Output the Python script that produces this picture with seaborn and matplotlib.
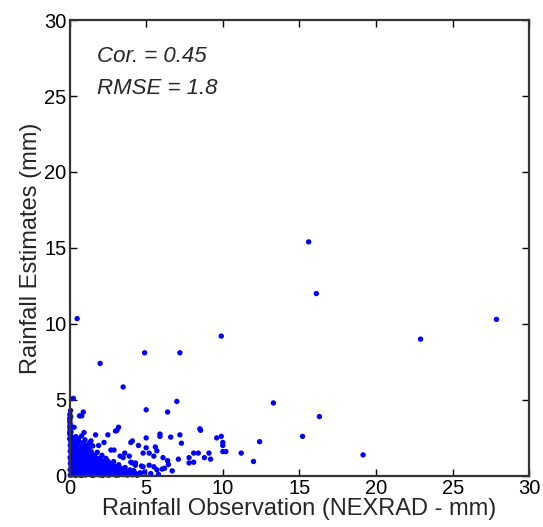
import matplotlib
matplotlib.use("Agg")
import matplotlib.pyplot as plt
import seaborn as sns
import numpy as np
import pandas as pd

# scattered points
obs_sparse = [15.6, 16.1, 27.85, 22.9, 9.9, 0.5, 2.0, 4.9, 7.2, 3.5, 0.25, 7.0, 5.0, 6.4,
              13.3, 16.3, 15.2, 19.15, 12.4, 12.0, 11.2, 10.0, 10.0, 10.0, 10.2, 9.6, 9.9,
              8.55, 8.5, 7.2, 7.3, 6.6, 5.9, 5.9, 5.0, 4.5, 4.0, 4.1, 5.0, 5.6, 5.7, 4.8,
              5.2, 5.5, 6.1, 6.4, 5.2, 4.7, 5.7, 6.2, 6.7, 7.1, 7.8, 7.8, 8.1, 8.4, 8.8,
              9.1, 9.2, 8.1, 6.05, 6.45, 5.5, 4.8, 4.1, 4.3, 3.6, 3.3, 3.5, 2.9, 3.2, 3.0,
              0.9, 0.65, 0.8, 0.07, 0.07, 3.1, 2.5, 1.7, 0.95, 0.3, 2.25, 1.4, 1.9, 2.7,
              3.9, 4.0, 4.3, 0.03, 0.03, 0.05, 0.03, 0.1, 5.3, 4.6, 3.8, 4.9, 5.8]
est_sparse = [15.4, 12.0, 10.3, 9.0, 9.2, 10.35, 7.4, 8.1, 8.1, 5.85, 5.1, 4.9, 4.35, 4.2,
              4.8, 3.9, 2.6, 1.38, 2.25, 0.95, 1.5, 2.2, 2.0, 1.6, 1.6, 2.5, 2.6,
              3.0, 3.1, 2.7, 2.15, 2.55, 2.6, 2.75, 2.5, 2.0, 2.2, 2.3, 1.85, 1.9, 1.65, 1.5,
              1.5, 1.3, 1.2, 1.0, 0.7, 0.65, 0.4, 0.5, 0.33, 1.1, 1.2, 0.85, 1.5, 1.5, 1.2,
              1.5, 1.1, 0.9, 0.45, 0.75, 0.6, 0.6, 0.85, 0.85, 1.5, 1.3, 1.2, 1.7, 3.2, 2.95,
              4.2, 3.95, 3.95, 4.3, 3.9, 3.0, 2.7, 2.7, 2.85, 3.2, 2.2, 2.3, 2.0, 1.7,
              1.3, 0.9, 0.7, 2.8, 3.1, 3.4, 3.7, 2.9, 0.15, 0.2, 0.1, 0.25, 0.1]

# dense cluster near the origin, row by row
obs_dense = [0.05, 0.22, 0.41, 0.63, 0.78, 1.02, 1.18, 1.43, 1.57, 1.84, 2.02, 2.17, 2.44, 2.58, 2.83, 3.04, 3.22, 3.52, 3.77, 4.12, 4.41,
             0.12, 0.28, 0.53, 0.69, 0.94, 1.08, 1.32, 1.48, 1.73, 1.88, 2.13, 2.31, 2.49, 2.72, 2.91, 3.13, 3.38, 3.71, 3.98, 4.27, 4.62,
             0.04, 0.24, 0.47, 0.61, 0.87, 1.03, 1.27, 1.44, 1.68, 1.83, 2.07, 2.26, 2.43, 2.67, 2.88, 3.17, 3.42, 3.58, 3.93, 4.18,
             0.11, 0.33, 0.49, 0.72, 0.91, 1.13, 1.29, 1.52, 1.71, 1.92, 2.09, 2.34, 2.56, 2.78, 3.02, 3.27, 3.63,
             0.06, 0.23, 0.44, 0.67, 0.83, 1.07, 1.24, 1.46, 1.63, 1.87, 2.04, 2.32, 2.61, 2.84, 3.21,
             0.09, 0.31, 0.52, 0.68, 0.92, 1.12, 1.33, 1.49, 1.72, 1.96, 2.19, 2.52, 2.88,
             0.04, 0.27, 0.43, 0.66, 0.86, 1.04, 1.26, 1.51, 1.77, 2.01, 2.38,
             0.12, 0.29, 0.51, 0.71, 0.93, 1.11, 1.36, 1.62, 2.12,
             0.05, 0.26, 0.46, 0.64, 0.89, 1.16, 1.42, 1.81,
             0.1, 0.31, 0.52, 0.76, 1.02, 1.28,
             0.05, 0.24, 0.49, 0.81, 1.09, 1.52,
             0.09, 0.36, 0.62, 0.88, 1.31,
             0.04, 0.29, 0.58, 1.01,
             0.11, 0.42, 0.79,
             # in-between rows
             0.14, 0.33, 0.52, 0.71, 0.9, 1.13, 1.31, 1.55, 1.74, 1.96, 2.23, 2.38, 2.66, 2.95, 3.31, 3.62, 3.88, 4.31, 4.55,
             0.15, 0.36, 0.57, 0.79, 0.98, 1.19, 1.38, 1.61, 1.79, 1.98, 2.21, 2.41, 2.75, 3.08, 3.47, 3.82, 4.05,
             0.17, 0.38, 0.58, 0.81, 1.01, 1.22, 1.41, 1.66, 1.92, 2.18, 2.47, 2.72, 3.09, 3.41,
             0.16, 0.4, 0.59, 0.79, 1.02, 1.19, 1.42, 1.68, 1.88, 2.28, 2.71,
             0.14, 0.37, 0.56, 0.77, 0.98, 1.21, 1.45, 1.69, 2.14,
             0.18, 0.39, 0.6, 0.83, 1.05, 1.34,
             0.02, 0.02, 0.02, 0.02, 0.02, 0.02, 0.02]
est_dense = [0.05, 0.08, 0.04, 0.07, 0.03, 0.06, 0.09, 0.05, 0.04, 0.08, 0.06, 0.03, 0.07, 0.05, 0.09, 0.04, 0.06, 0.08, 0.05, 0.07, 0.04,
             0.22, 0.18, 0.24, 0.2, 0.17, 0.23, 0.21, 0.19, 0.25, 0.18, 0.22, 0.2, 0.24, 0.17, 0.21, 0.23, 0.19, 0.22, 0.18, 0.2, 0.16,
             0.41, 0.38, 0.43, 0.39, 0.42, 0.37, 0.4, 0.44, 0.38, 0.41, 0.39, 0.43, 0.36, 0.42, 0.4, 0.38, 0.41, 0.37, 0.39, 0.34,
             0.62, 0.58, 0.61, 0.63, 0.57, 0.6, 0.64, 0.59, 0.62, 0.58, 0.61, 0.63, 0.57, 0.6, 0.59, 0.56, 0.55,
             0.81, 0.78, 0.83, 0.79, 0.82, 0.77, 0.8, 0.84, 0.78, 0.81, 0.79, 0.82, 0.77, 0.76, 0.73,
             1.02, 0.98, 1.03, 0.99, 1.01, 0.97, 1.04, 1.0, 0.98, 1.02, 0.96, 0.95, 0.94,
             1.21, 1.18, 1.23, 1.19, 1.22, 1.17, 1.2, 1.24, 1.18, 1.16, 1.15,
             1.41, 1.38, 1.42, 1.39, 1.43, 1.37, 1.4, 1.36, 1.35,
             1.61, 1.58, 1.63, 1.59, 1.62, 1.57, 1.6, 1.55,
             1.81, 1.78, 1.83, 1.79, 1.77, 1.82,
             2.01, 1.98, 2.03, 1.99, 2.02, 1.97,
             2.21, 2.18, 2.23, 2.19, 2.17,
             2.41, 2.38, 2.43, 2.37,
             2.61, 2.58, 2.63,
             0.13, 0.11, 0.14, 0.12, 0.1, 0.13, 0.15, 0.11, 0.12, 0.14, 0.1, 0.13, 0.11, 0.12, 0.1, 0.13, 0.11, 0.12, 0.1,
             0.31, 0.29, 0.32, 0.3, 0.28, 0.31, 0.33, 0.29, 0.3, 0.32, 0.28, 0.31, 0.29, 0.3, 0.27, 0.28, 0.26,
             0.51, 0.49, 0.52, 0.5, 0.48, 0.51, 0.53, 0.49, 0.5, 0.52, 0.48, 0.5, 0.47, 0.46,
             0.71, 0.69, 0.72, 0.7, 0.68, 0.71, 0.73, 0.69, 0.7, 0.67, 0.66,
             0.91, 0.89, 0.92, 0.9, 0.88, 0.91, 0.87, 0.9, 0.86,
             1.11, 1.09, 1.12, 1.1, 1.08, 1.07,
             2.9, 3.25, 3.55, 3.8, 4.05, 2.45, 2.75]

df = pd.DataFrame({"obs": obs_sparse + obs_dense, "est": est_sparse + est_dense})

sns.set_style("ticks")
plt.rcParams["font.family"] = ["Liberation Sans", "DejaVu Sans"]

fig = plt.figure(figsize=(5.43, 5.27), dpi=100)
ax = fig.add_axes([0.128, 0.097, 0.847, 0.865])

sns.scatterplot(data=df, x="obs", y="est", ax=ax, color="#0000ff", marker="o",
                s=15, linewidth=0, edgecolor="none", clip_on=False)

ax.set_xlim(0, 30)
ax.set_ylim(0, 30)
ax.set_xticks([0, 5, 10, 15, 20, 25, 30])
ax.set_yticks([0, 5, 10, 15, 20, 25, 30])
ax.tick_params(direction="in", length=5, width=1, top=True, right=True,
               labelsize=14.5, pad=2, colors="black")
for sp in ax.spines.values():
    sp.set_visible(True)
    sp.set_linewidth(1.6)
    sp.set_color("#333333")

ax.set_xlabel("Rainfall Observation (NEXRAD - mm)", fontsize=17, labelpad=0)
ax.set_ylabel("Rainfall Estimates (mm)", fontsize=17, labelpad=2)

ax.text(1.8, 27.6, "Cor. = 0.45", fontsize=16, style="italic", va="center")
ax.text(1.8, 25.5, "RMSE = 1.8", fontsize=16, style="italic", va="center")

fig.savefig("out.png", dpi=100)
